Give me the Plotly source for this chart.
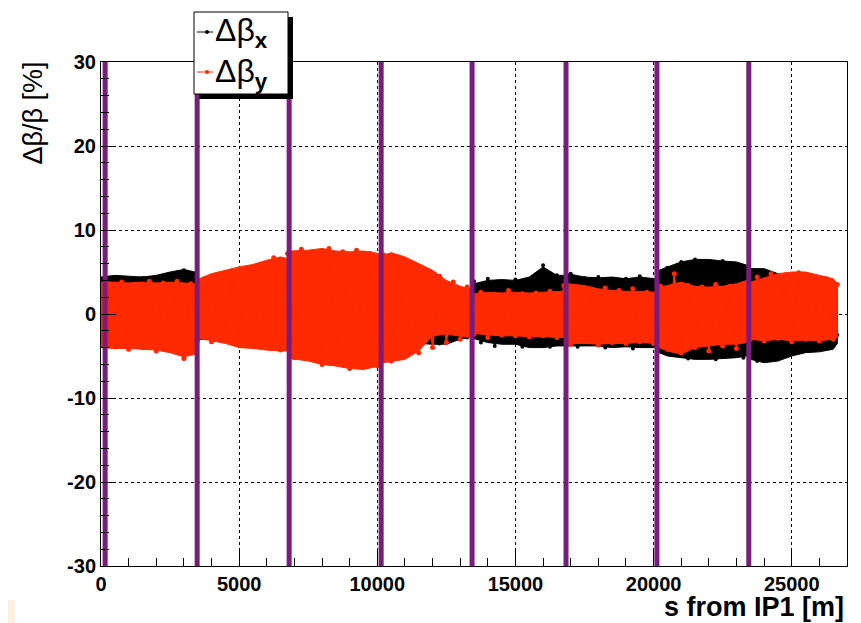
import plotly.graph_objects as go

# ---------------- data ----------------
s_pos = [0, 250, 500, 750, 1000, 1250, 1500, 1750, 2000, 2250, 2500, 2750, 3000, 3250,
         3500, 3750, 4000, 4250, 4500, 4750, 5000, 5250, 5500, 5750, 6000, 6250, 6500,
         6750, 7000, 7250, 7500, 7750, 8000, 8250, 8500, 8750, 9000, 9250, 9500, 9750, 10000,
         10250, 10500, 10750, 11000, 11250, 11500, 11750, 12000, 12250, 12500, 12750, 13000, 13250,
         13500, 13750, 14000, 14250, 14500, 14750, 15000, 15250, 15500, 15750, 16000, 16250, 16500,
         16750, 17000, 17250, 17500, 17750, 18000, 18250, 18500, 18750, 19000, 19250, 19500, 19750, 20000,
         20250, 20500, 20750, 21000, 21250, 21500, 21750, 22000, 22250, 22500, 22750, 23000, 23250,
         23500, 23750, 24000, 24250, 24500, 24750, 25000, 25250, 25500, 25750, 26000, 26250, 26500, 26650]

dbeta_x = [0.5, -3.2, 4.2, -3.0, 4.0, -3.4, 4.3, -2.8, 3.8, -3.3, 4.6, -3.0, 5.2, -3.4,
           2.8, -2.6, 3.2, -3.0, 2.5, -2.8, 3.4, -2.4, 3.0, -3.2, 3.6, -2.7, 3.3,
           -2.5, 3.0, -3.5, 2.6, -3.0, 3.4, -2.8, 2.9, -3.6, 3.2, -2.6, 2.7, -3.1, 3.0,
           -2.2, 2.0, -2.6, 1.8, -1.9, 2.2, -3.2, 1.6, -3.5, 1.5, -3.0, 1.2, -2.8,
           3.9, -3.4, 4.2, -3.8, 3.8, -3.3, 4.1, -3.9, 4.0, -3.5, 5.8, -3.9, 4.6,
           -3.6, 4.8, -3.9, 4.3, -3.5, 4.4, -4.0, 4.1, -3.6, 4.2, -4.1, 4.5, -3.8, 3.9,
           -4.3, 5.5, -4.9, 6.2, -5.3, 6.5, -5.0, 6.0, -5.4, 6.3, -4.8, 5.6, -5.2,
           5.2, -5.6, 4.4, -5.0, 4.6, -4.2, 4.0, -3.6, 4.3, -3.5, 3.8, -3.3, 3.5, -2.5]

dbeta_y = [-0.5, 3.6, -3.9, 3.8, -4.2, 3.5, -4.0, 3.9, -4.4, 3.7, -4.1, 3.9, -5.3, 3.6,
           -3.1, 4.2, -3.3, 4.6, -3.0, 5.0, -3.6, 5.4, -3.4, 5.8, -4.0, 6.7, -4.3,
           7.2, -5.2, 7.7, -4.8, 7.3, -6.0, 7.8, -5.5, 7.4, -6.5, 7.6, -5.8, 7.2, -6.2,
           7.0, -5.6, 6.8, -5.0, 6.0, -4.6, 5.2, -4.0, 4.5, -3.4, 3.8, -3.0, 3.2,
           -2.4, 2.6, -2.8, 2.3, -2.5, 2.8, -2.6, 2.4, -2.7, 2.5, -2.6, 2.7, -2.8,
           3.4, -3.6, 3.0, -3.3, 2.9, -3.7, 3.1, -3.4, 2.8, -3.5, 3.0, -3.3, 2.6, -3.5,
           3.3, -4.2, 4.8, -4.6, 3.4, -4.0, 3.2, -4.4, 3.5, -3.8, 3.3, -4.1, 3.6,
           -3.0, 4.4, -3.2, 4.8, -2.9, 4.6, -3.3, 4.9, -3.0, 4.5, -3.2, 4.2, -3.0, 3.5]

# envelopes of the dense point clouds, per arc between IPs
s_env = [0, 500, 1000, 1500, 2000, 2500, 3000, 3400,
         3550, 4000, 4500, 5000, 5500, 6000, 6500, 6750,
         6880, 7500, 8000, 8500, 9000, 9500, 10050,
         10220, 10500, 11000, 11500, 12000, 12500, 13000, 13350,
         13500, 14000, 14500, 15000, 15500, 16000, 16500, 16750,
         16900, 17500, 18000, 18500, 19000, 19500, 20050,
         20200, 20500, 21000, 21500, 22000, 22500, 23000, 23380,
         23520, 24000, 24500, 25000, 25500, 26000, 26500, 26650]
x_upper = [4.4, 4.6, 4.5, 4.4, 4.6, 5.0, 5.3, 5.0,
           3.0, 3.2, 3.4, 3.5, 3.6, 3.8, 4.0, 4.0,
           3.5, 3.5, 3.5, 3.5, 3.5, 3.5, 3.5,
           3.0, 3.0, 3.0, 2.5, 2.5, 2.5, 2.5, 2.5,
           3.6, 4.0, 4.1, 4.0, 4.4, 5.6, 4.6, 4.6,
           4.8, 4.4, 4.3, 4.4, 4.2, 4.4, 4.2,
           5.2, 5.6, 6.2, 6.5, 6.5, 6.3, 6.2, 5.8,
           5.4, 5.4, 4.8, 4.4, 4.2, 4.0, 3.8, 3.5]
x_lower = [-3.5, -3.5, -3.5, -3.6, -3.6, -3.7, -3.8, -3.8,
           -3.0, -3.0, -3.2, -3.4, -3.5, -3.6, -3.8, -3.8,
           -4.0, -4.0, -4.2, -4.2, -4.2, -4.2, -4.2,
           -3.0, -3.0, -3.2, -3.5, -3.6, -3.6, -3.0, -2.8,
           -3.0, -3.4, -3.6, -3.6, -4.0, -4.0, -3.8, -3.8,
           -3.8, -3.8, -3.8, -4.0, -3.9, -4.0, -4.0,
           -4.6, -5.0, -5.2, -5.4, -5.4, -5.3, -5.2, -5.0,
           -5.4, -5.8, -5.6, -5.0, -4.6, -4.5, -4.2, -3.5]
y_upper = [3.8, 3.8, 3.7, 3.8, 3.7, 3.8, 3.7, 3.6,
           4.2, 4.8, 5.2, 5.6, 5.9, 6.4, 6.8, 6.6,
           7.5, 7.6, 7.8, 7.5, 7.4, 7.5, 7.2,
           7.0, 7.3, 6.8, 6.0, 5.2, 4.0, 3.3, 3.0,
           2.4, 2.6, 2.5, 2.6, 2.5, 2.6, 2.7, 2.7,
           3.6, 3.4, 3.0, 2.8, 2.7, 2.7, 2.6,
           3.2, 3.4, 3.8, 3.3, 3.2, 3.3, 3.6, 4.0,
           3.8, 4.3, 4.8, 5.0, 5.0, 4.6, 4.2, 3.6]
y_lower = [-4.0, -4.1, -4.1, -4.2, -4.3, -4.6, -5.1, -4.8,
           -2.9, -3.2, -3.5, -4.0, -4.1, -4.3, -4.4, -4.4,
           -5.3, -5.6, -6.0, -6.2, -6.5, -6.6, -6.2,
           -5.8, -5.6, -5.4, -4.4, -2.6, -2.4, -2.6, -2.8,
           -2.3, -2.5, -2.6, -2.6, -2.7, -2.7, -2.8, -2.8,
           -3.5, -3.5, -3.6, -3.5, -3.5, -3.4, -3.5,
           -4.0, -4.4, -4.8, -4.0, -3.8, -3.6, -3.6, -3.4,
           -3.0, -3.2, -3.0, -3.2, -3.1, -3.2, -3.0, -2.8]

ip_s = [150, 3480, 6810, 10140, 13430, 16830, 20120, 23445]

x_ticks = [0, 5000, 10000, 15000, 20000, 25000]
y_ticks = [-30, -20, -10, 0, 10, 20, 30]

# ---------------- geometry helpers (reference pixel -> paper) ----------------
OFF = 8                      # page body margin of the browser
W, H = 861 - OFF, 623 - OFF
L, R, T, B = 93, 14, 54, 57
PW, PH = W - L - R, H - T - B


def px(x):
    return (x - OFF - L) / PW


def py(y):
    return (H - B - (y - OFF)) / PH


FONT = "Liberation Sans, Arial, Helvetica, sans-serif"
RED = "#ff2a00"
PURPLE = "#7a1c7d"

fig = go.Figure()

# black (x) cloud
fig.add_trace(go.Scatter(x=s_env + s_env[::-1], y=x_upper + x_lower[::-1], mode="lines",
                         fill="toself", fillcolor="black", line=dict(color="black", width=1),
                         showlegend=False, hoverinfo="skip"))
fig.add_trace(go.Scatter(x=s_pos, y=dbeta_x, mode="lines+markers",
                         line=dict(color="black", width=1.6),
                         marker=dict(color="black", size=4), showlegend=False))
# red (y) cloud
fig.add_trace(go.Scatter(x=s_env + s_env[::-1], y=y_upper + y_lower[::-1], mode="lines",
                         fill="toself", fillcolor=RED, line=dict(color=RED, width=1),
                         showlegend=False, hoverinfo="skip"))
fig.add_trace(go.Scatter(x=s_pos, y=dbeta_y, mode="lines+markers",
                         line=dict(color=RED, width=1.6),
                         marker=dict(color=RED, size=5), showlegend=False))

ipx, ipy = [], []
for s in ip_s:
    ipx += [s, s, None]
    ipy += [-30, 30, None]
fig.add_trace(go.Scatter(x=ipx, y=ipy, mode="lines", line=dict(color=PURPLE, width=5),
                         showlegend=False, hoverinfo="skip"))

shapes = []
# faint corner patch
shapes.append(dict(type="rect", xref="paper", yref="paper", x0=px(8), x1=px(15), y0=py(623), y1=py(600),
                   fillcolor="#fbf0e2", line=dict(width=0), layer="below"))
# legend box with shadow
shapes.append(dict(type="rect", xref="paper", yref="paper", x0=px(199), x1=px(293), y0=py(99), y1=py(17),
                   fillcolor="black", line=dict(width=0)))
shapes.append(dict(type="rect", xref="paper", yref="paper", x0=px(194), x1=px(288), y0=py(94), y1=py(12),
                   fillcolor="white", line=dict(color="black", width=1)))
for yy, col in [(32, "black"), (72, RED)]:
    shapes.append(dict(type="line", xref="paper", yref="paper", x0=px(197), x1=px(213), y0=py(yy), y1=py(yy),
                       line=dict(color=col, width=1)))
    shapes.append(dict(type="circle", xref="paper", yref="paper", x0=px(205), x1=px(209), y0=py(yy + 2), y1=py(yy - 2),
                       fillcolor=col, line=dict(color=col, width=0)))

annotations = [
    dict(text="Δβ<sub><b>x</b></sub>", xref="paper", yref="paper", x=px(213), y=py(33),
         xanchor="left", yanchor="middle", showarrow=False, font=dict(family=FONT, size=32, color="black")),
    dict(text="Δβ<sub><b>y</b></sub>", xref="paper", yref="paper", x=px(213), y=py(73),
         xanchor="left", yanchor="middle", showarrow=False, font=dict(family=FONT, size=32, color="black")),
    dict(text="<b>s from IP1 [m]</b>", xref="paper", yref="paper", x=px(846), y=py(607),
         xanchor="right", yanchor="middle", showarrow=False, font=dict(family=FONT, size=27, color="black")),
    dict(text="Δβ/β [%]", xref="paper", yref="paper", x=px(32), y=py(60),
         xanchor="center", yanchor="top", textangle=-90, showarrow=False,
         font=dict(family=FONT, size=27, color="black")),
]

axis_common = dict(ticks="inside", ticklen=15, tickcolor="black", tickwidth=1,
                   showgrid=True, gridcolor="black", griddash="dot", gridwidth=1,
                   showline=True, linecolor="black", linewidth=1, mirror=True, zeroline=False,
                   tickfont=dict(family=FONT, size=20, color="black", weight="bold"))

fig.update_layout(
    width=W, height=H,
    margin=dict(l=L, r=R, t=T, b=B, pad=0),
    paper_bgcolor="white", plot_bgcolor="white",
    shapes=shapes, annotations=annotations,
    xaxis=dict(range=[0, 27000], tickvals=x_ticks, ticktext=[str(v) for v in x_ticks],
               minor=dict(dtick=1000, tick0=0, ticks="inside", ticklen=8, tickcolor="black", showgrid=False),
               **axis_common),
    yaxis=dict(range=[-30, 30], tickvals=y_ticks, ticktext=[str(v) for v in y_ticks],
               minor=dict(dtick=2, tick0=0, ticks="inside", ticklen=8, tickcolor="black", showgrid=False),
               **axis_common),
)

fig.write_html("out.html")
